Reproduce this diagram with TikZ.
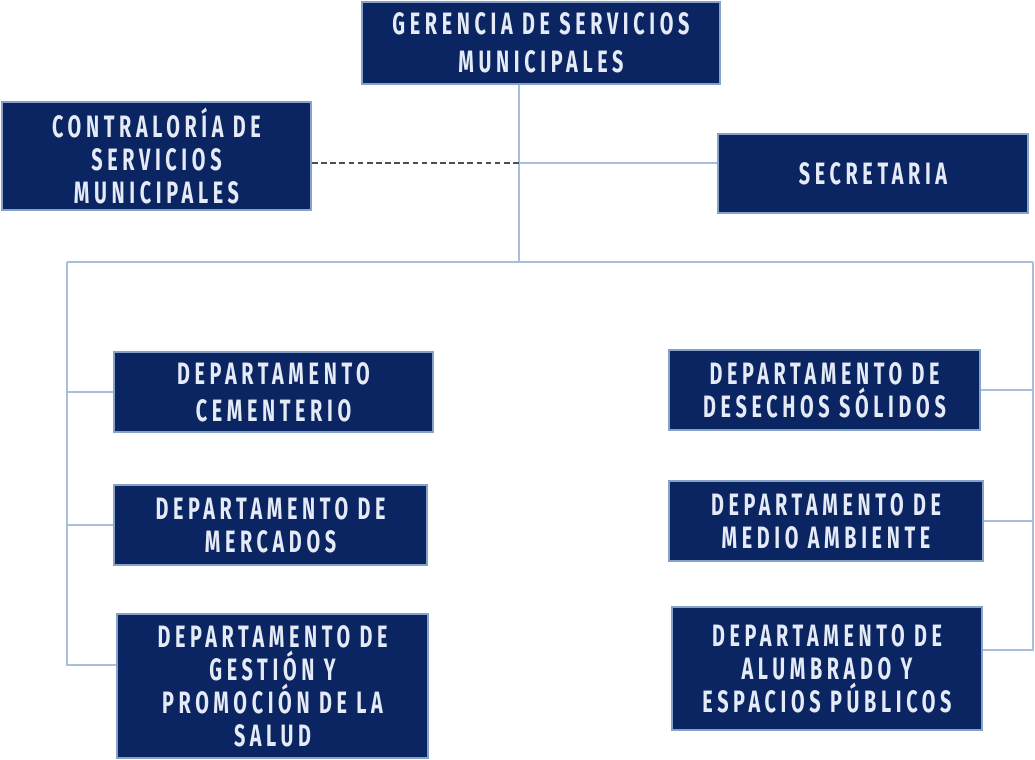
\documentclass[tikz,border=0pt]{standalone}
\usepackage{fontspec}
\newfontfamily\orgfont{Fira Sans}[FakeStretch=0.64, LetterSpace=15]
\usetikzlibrary{positioning, calc}
\definecolor{cnavy}{HTML}{0B2563}
\definecolor{cedge}{HTML}{86A2C8}
\definecolor{cline}{HTML}{A7BEDC}
\definecolor{ctext}{HTML}{E4EAF6}
\definecolor{cdash}{HTML}{4A4F5A}
\tikzset{
  every picture/.style={line width=1.3pt},
  box/.style={draw=cedge, fill=cnavy, line width=1.6pt, align=center, inner sep=4pt,
    text=ctext, font=\orgfont\bfseries\fontsize{22}{23.5}\selectfont},
  link/.style={draw=cline, line width=1.3pt},
  dotted link/.style={draw=cdash, line width=1.3pt, dash pattern=on 4pt off 2.5pt},
}
\begin{document}
\begin{tikzpicture}[x=0.025cm, y=-0.025cm]
  \useasboundingbox (0,0) rectangle (1035,760);

  \node[box, minimum width=8.95cm, minimum height=2.05cm] (ger) at (541,43) {GERENCIA DE SERVICIOS\\[3.5pt]MUNICIPALES};
  \node[box, minimum width=7.72cm, minimum height=2.5cm] (con) at (156.5,156) {CONTRALORÍA DE\\SERVICIOS\\MUNICIPALES};
  \node[box, minimum width=7.75cm, minimum height=1.98cm] (sec) at (873,173.5) {SECRETARIA};

  % left column
  \node[box, minimum width=7.97cm, minimum height=2cm] (cem) at (273.5,392) {DEPARTAMENTO\\[3pt]CEMENTERIO};
  \node[box, minimum width=7.82cm, minimum height=2cm] (mer) at (270.5,525) {DEPARTAMENTO DE\\MERCADOS};
  \node[box, minimum width=7.77cm, minimum height=3.6cm] (ges) at (272.5,686) {DEPARTAMENTO DE\\GESTIÓN Y\\PROMOCIÓN DE LA\\SALUD};
  % right column
  \node[box, minimum width=7.77cm, minimum height=2cm] (des) at (824.5,390) {DEPARTAMENTO DE\\DESECHOS SÓLIDOS};
  \node[box, minimum width=7.85cm, minimum height=2cm] (med) at (826,521) {DEPARTAMENTO DE\\MEDIO AMBIENTE};
  \node[box, minimum width=7.75cm, minimum height=3.08cm] (alu) at (827,668.5) {DEPARTAMENTO DE\\ALUMBRADO Y\\ESPACIOS PÚBLICOS};

  \coordinate (jn) at (519,163);
  \coordinate (bus) at (519,262);
  \coordinate (lbus) at (67,262);
  \coordinate (rbus) at (1033,262);

  \draw[link] (ger.south -| jn) -- (bus);
  \draw[link] (jn) -- (jn -| sec.west);
  \draw[dotted link] (con.east |- jn) -- (jn);
  \draw[link] (lbus) -- (rbus);
  \draw[link] (lbus) |- ([yshift=0.52cm]ges.west);
  \draw[link] (rbus) |- ([yshift=0.46cm]alu.east);
  \foreach \d in {cem, mer} \draw[link] (lbus |- \d.west) -- (\d.west);
  \foreach \d in {des, med} \draw[link] (\d.east) -- (rbus |- \d.east);
\end{tikzpicture}
\end{document}
